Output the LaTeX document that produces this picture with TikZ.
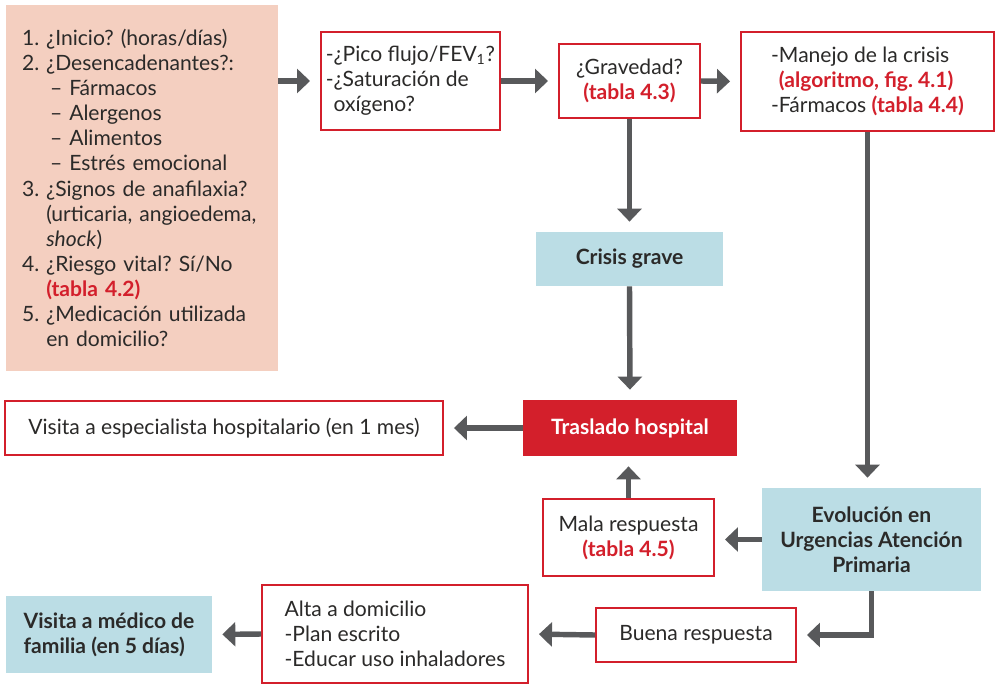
\documentclass[tikz,border=0pt]{standalone}
\usepackage{fontspec}
\setmainfont{Lato}
\usetikzlibrary{arrows.meta}
\frenchspacing

\definecolor{rojo}{HTML}{D31F2B}
\definecolor{salmon}{HTML}{F4CFC0}
\definecolor{celeste}{HTML}{BBDDE5}
\definecolor{gris}{HTML}{58595B}
\definecolor{texto}{HTML}{2B2A29}

\newcommand{\tabla}[1]{{\bfseries\color{rojo}#1}}

\tikzset{
  every node/.style={font=\fontsize{12}{14.3}\selectfont, text=texto, inner sep=0pt},
  caja/.style={draw=rojo, line width=1.1pt, fill=white},
  azul/.style={fill=celeste, font=\fontsize{12}{14.3}\selectfont\bfseries},
  flecha/.style={->, draw=gris, line width=3.1pt, shorten >=5.7pt},
  >={Triangle[width=13.6pt,length=7.4pt]}
}

\begin{document}
\begin{tikzpicture}[x=0.02cm, y=-0.02cm]
\useasboundingbox (0,0) rectangle (995,684);

% fila superior
\node[fill=salmon, minimum width=5.44cm, minimum height=7.32cm, text width=4.8cm, align=left] (preguntas) at (142,188) {%
1. ¿Inicio? (horas/días)\\
2. ¿Desencadenantes?:\\
\hspace*{0.56cm}– Fármacos\\
\hspace*{0.56cm}– Alergenos\\
\hspace*{0.56cm}– Alimentos\\
\hspace*{0.56cm}– Estrés emocional\\
3. ¿Signos de anafilaxia?\\
\phantom{3. }(urticaria, angioedema,\\
\phantom{3. }\textit{shock})\\
4. ¿Riesgo vital? Sí/No\\
\phantom{4. }\tabla{(tabla 4.2)}\\
5. ¿Medicación utilizada\\
\phantom{5. }en domicilio?};
\node[caja, minimum width=3.58cm, minimum height=1.96cm, align=left] (pico) at (410.5,81) {-¿Pico flujo/FEV\textsubscript{1}?\\-¿Saturación de\\\phantom{-}oxígeno?};
\node[caja, minimum width=2.82cm, minimum height=1.48cm, align=center] (gravedad) at (629.5,81) {¿Gravedad?\\\tabla{(tabla 4.3)}};
\node[caja, minimum width=5.06cm, minimum height=1.98cm, align=left] (manejo) at (867.5,81.5) {-Manejo de la crisis\\\phantom{-}\tabla{(algoritmo, fig. 4.1)}\\-Fármacos \tabla{(tabla 4.4)}};

% columna central
\node[azul, minimum width=3.74cm, minimum height=1.08cm] (crisis) at (629.5,259) {Crisis grave};
\node[fill=rojo, text=white, font=\fontsize{12}{14.3}\selectfont\bfseries, minimum width=4.28cm, minimum height=1.12cm] (traslado) at (630,428) {Traslado hospital};
\node[caja, minimum width=8.76cm, minimum height=1.08cm] (especialista) at (224,428) {Visita a especialista hospitalario (en 1 mes)};
\node[caja, minimum width=3.42cm, minimum height=1.54cm, align=center] (mala) at (628.5,537.5) {Mala respuesta\\\tabla{(tabla 4.5)}};
\node[azul, minimum width=4.38cm, minimum height=2.06cm, align=center] (evolucion) at (871.5,539.5) {Evolución en\\Urgencias Atención\\Primaria};

% fila inferior
\node[caja, minimum width=4cm, minimum height=1.08cm] (buena) at (696,635) {Buena respuesta};
\node[caja, minimum width=5.32cm, minimum height=1.96cm, align=left] (alta) at (395,634) {Alta a domicilio\\-Plan escrito\\-Educar uso inhaladores};
\node[azul, minimum width=4.12cm, minimum height=1.54cm, align=left] (medico) at (109,634.5) {Visita a médico de\\familia (en 5 días)};

% flechas
\draw[flecha] (preguntas.east |- pico.west) -- (pico.west);
\draw[flecha] (pico.east) -- (gravedad.west);
\draw[flecha] (gravedad.east) -- (manejo.west);
\draw[flecha] (gravedad.south) -- (crisis.north);
\draw[flecha] (crisis.south) -- (traslado.north);
\draw[flecha] (manejo.south) -- (manejo.south |- evolucion.north);
\draw[flecha] (traslado.west) -- (especialista.east);
\draw[flecha] (mala.north) -- (mala.north |- traslado.south);
\draw[flecha] (evolucion.west) -- (evolucion.west -| mala.east);
\draw[flecha] (evolucion.south) |- (buena.east);
\draw[flecha] (buena.west) -- (alta.east);
\draw[flecha] (alta.west) -- (medico.east);
\end{tikzpicture}
\end{document}
